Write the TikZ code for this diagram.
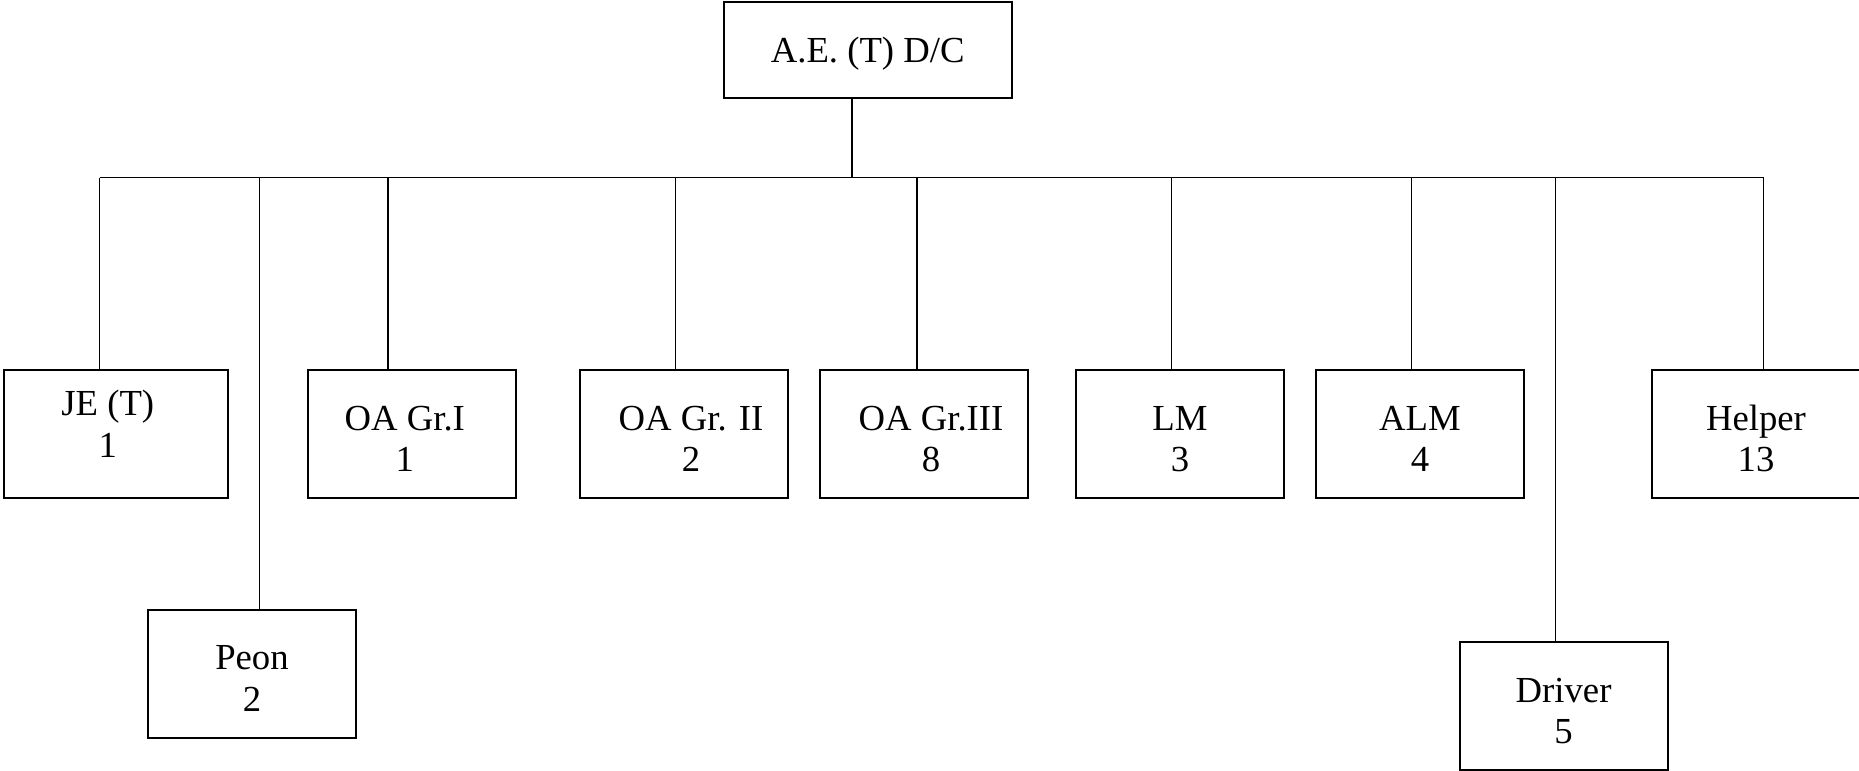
\documentclass[tikz,border=0pt]{standalone}
\usepackage{fontspec}
\setmainfont{Liberation Serif}

\newcommand{\offs}[2]{\leavevmode\kern#1\relax#2\kern-#1\relax}

\begin{document}
\begin{tikzpicture}[
    x=0.5pt, y=-0.5pt,
    font=\fontsize{18.35}{20.85}\selectfont,
    post/.style={rectangle, draw, line width=1pt, inner sep=0pt, text width=104pt, minimum height=64pt, align=flush center, text height=17pt, text depth=20.7pt},
    head/.style={post, text width=144pt, minimum height=48pt, text depth=4pt},
    link/.style={line width=0.65pt}
]
\useasboundingbox (0,0) rectangle (1859,771);

\node[head] (ae) at (867.7,49.7) {A.E. (T) D/C};

\node[post, text width=112pt, text depth=35pt] (je) at (115.8,433.7) {\offs{-4pt}{JE (T)}\\\offs{-4pt}{1}};
\node[post] (oa1) at (412.2,433.7) {\offs{-3.7pt}{OA Gr.I}\\\offs{-3.7pt}{1}};
\node[post] (oa2) at (684,433.7) {\offs{3.5pt}{OA Gr. II}\\\offs{3.5pt}{2}};
\node[post] (oa3) at (924,433.7) {\offs{3.5pt}{OA Gr.III}\\\offs{3.5pt}{8}};
\node[post] (lm) at (1180,433.7) {LM\\3};
\node[post] (alm) at (1420,433.7) {ALM\\4};
\node[post] (helper) at (1756,433.7) {Helper\\13};
\node[post] (peon) at (252,673.5) {Peon\\2};
\node[post] (driver) at (1563.6,705.7) {Driver\\5};

\foreach \n/\x in {je/99.6, peon/259.8, oa1/387.9, oa2/675.5, oa3/917, lm/1171.7, alm/1411.6, driver/1555.6, helper/1763.5}
    \coordinate (bus-\n) at (\x,177.7);
\coordinate (bus-ae) at (852,177.7);

\draw[link] (bus-je) -- (bus-helper);
\draw[link] (bus-ae |- ae.south) -- (bus-ae);
\foreach \n in {je, peon, oa1, oa2, oa3, lm, alm, driver, helper}
    \draw[link] (bus-\n) -- (bus-\n |- \n.north);

\end{tikzpicture}
\end{document}
